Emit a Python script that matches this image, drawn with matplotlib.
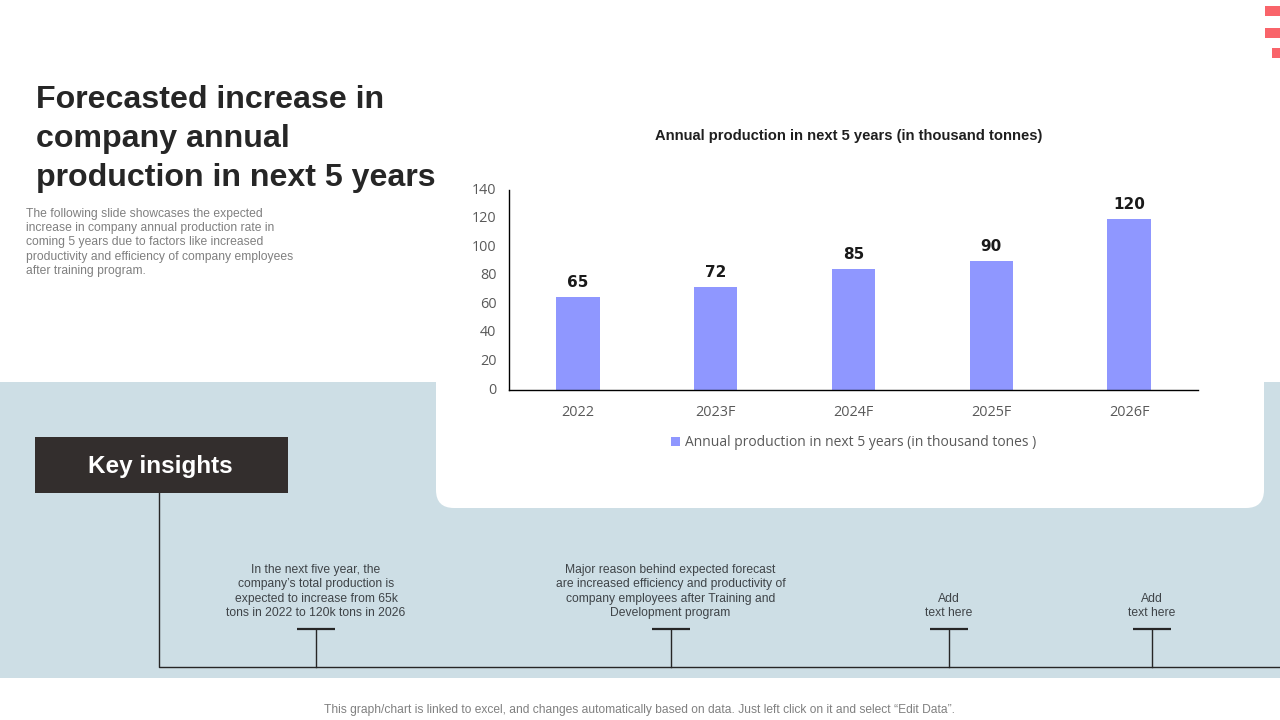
import matplotlib
matplotlib.use('Agg')
import matplotlib.pyplot as plt
from matplotlib.patches import Rectangle, FancyBboxPatch

years = ['2022', '2023F', '2024F', '2025F', '2026F']
production = [65, 72, 85, 90, 120]
y_ticks = [0, 20, 40, 60, 80, 100, 120, 140]
series_name = 'Annual production in next 5 years (in thousand tones )'
chart_title = 'Annual production in next 5 years (in thousand tonnes)'

title_lines = ['Forecasted increase in', 'company annual', 'production in next 5 years']
desc_lines = ['The following slide showcases the expected',
              'increase in company annual production rate in',
              'coming 5 years due to factors like increased',
              'productivity and efficiency of company employees',
              'after training program.']
insights = [
    (316, ['In the next five year, the', 'company\u2019s total production is',
           'expected to increase from 65k', 'tons in 2022 to 120k tons in 2026']),
    (670.5, ['Major reason behind expected forecast',
             'are increased efficiency and productivity of',
             'company employees after Training and', 'Development program']),
    (949, ['Add', 'text here']),
    (1152, ['Add', 'text here']),
]
footer = 'This graph/chart is linked to excel, and changes automatically based on data. Just left click on it and select \u201cEdit Data\u201d.'

BLUE = '#8f97ff'
BAND = '#cddee5'
DARK = '#332e2d'
RED = '#f9646a'
W, H = 1280, 720

fig = plt.figure(figsize=(12.8, 7.2), dpi=100, facecolor='white')

# whole slide in pixel coordinates
bg = fig.add_axes([0, 0, 1, 1])
bg.set_xlim(0, W)
bg.set_ylim(H, 0)
bg.axis('off')

bg.add_patch(Rectangle((0, 382), W, 296, color=BAND, lw=0))
bg.add_patch(FancyBboxPatch((436, 320), 828, 188, boxstyle='round,pad=0,rounding_size=18',
                            fc='white', ec='none'))
bg.add_patch(Rectangle((35, 437), 253, 56, color=DARK, lw=0))
bg.text(160, 466.5, 'Key insights', color='white', fontsize=17.5, fontweight='bold',
        family='Liberation Sans', ha='center', va='center')

# corner marks
bg.add_patch(Rectangle((1265, 6), 15, 10, color=RED, lw=0))
bg.add_patch(Rectangle((1265, 28), 15, 10, color=RED, lw=0))
bg.add_patch(Rectangle((1272, 48), 8, 10, color=RED, lw=0))

for i, line in enumerate(title_lines):
    bg.text(36.5, 100 + i * 39, line, color='#262626', fontsize=23.1, fontweight='bold',
            family='Liberation Sans', ha='left', va='center')
for i, line in enumerate(desc_lines):
    bg.text(26, 214 + i * 14.2, line, color='#808080', fontsize=8.75,
            family='Liberation Sans', ha='left', va='center')

# timeline
bg.plot([159, 159, W], [493, 667, 667], color='#262626', lw=1)
for x, lines in insights:
    bg.plot([x - 19, x + 19], [629, 629], color='#262626', lw=1.6, solid_capstyle='butt')
    bg.plot([x, x], [629, 667], color='#262626', lw=1)
    y0 = 613 - (len(lines) - 1) * 14.3
    for i, line in enumerate(lines):
        bg.text(x, y0 + i * 14.3, line, color='#3f4448', fontsize=8.7,
                family='Liberation Sans', ha='center', va='center')

bg.text(639.5, 710, footer, color='#808080', fontsize=8.63, family='Liberation Sans',
        ha='center', va='center')

# bar chart
ax = fig.add_axes([509 / W, 1 - 390 / H, 689 / W, 200 / H])
ax.patch.set_alpha(0)
bars = ax.bar(years, production, width=0.315, color=BLUE, label=series_name)
ax.set_xlim(-0.5, 4.5)
ax.set_ylim(0, 140)
ax.set_yticks(y_ticks)
for s in ['top', 'right']:
    ax.spines[s].set_visible(False)
for s in ['left', 'bottom']:
    ax.spines[s].set_color('black')
    ax.spines[s].set_linewidth(1)
ax.tick_params(length=0, labelsize=10.4, labelcolor='#595959', pad=9)
ax.tick_params(axis='x', pad=10.5)
for lab in ax.get_xticklabels() + ax.get_yticklabels():
    lab.set_family('Open Sans')
for lab in ax.get_yticklabels():
    lab.set_verticalalignment('center')
ax.bar_label(bars, padding=5, fontsize=11, fontweight='bold', color='#1a1a1a',
             family='DejaVu Sans')
leg = ax.legend(loc='center', bbox_to_anchor=(344.5 / 689, -53 / 200), frameon=False,
                prop={'family': 'Open Sans', 'size': 10}, labelcolor='#595959',
                handlelength=0.65, handleheight=0.65, handletextpad=0.35, borderpad=0)
bg.text(848.5, 136, chart_title, color='#1f1f1f', fontsize=10.6, fontweight='bold',
        family='Liberation Sans', ha='center', va='center')

fig.savefig('out.png', dpi=100)
